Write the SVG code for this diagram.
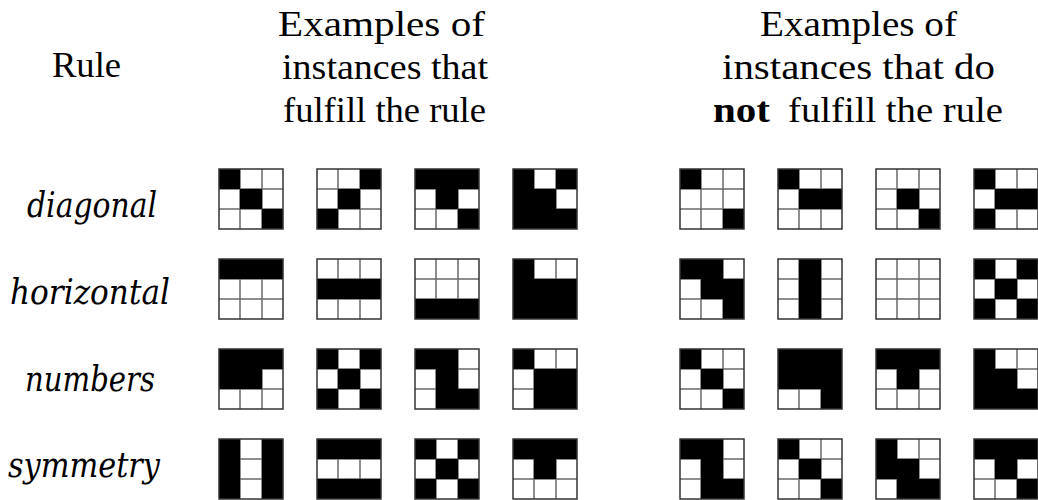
<svg xmlns="http://www.w3.org/2000/svg" width="1038" height="500" viewBox="0 0 1038 500">
<style>
.t{font-family:'Liberation Serif','DejaVu Serif',serif;font-size:36px;fill:#000}
.it{font-style:italic}
.b{font-weight:bold}
.on{fill:#000}
.ln{stroke:#6a6a6a;stroke-width:1.5;fill:none}
.fr{stroke:#333;stroke-width:1.5;fill:none}
</style>
<defs>
<g id="lines">
<rect x="0" y="0" width="64" height="60" fill="#fff"/>
<path class="ln" d="M21 0V60M43 0V60M0 20H64M0 40H64"/>
</g>
<rect id="frame" class="fr" x="0" y="0" width="64" height="60"/>
<rect id="c00" class="on" x="0" y="0" width="21" height="20"/>
<rect id="c01" class="on" x="21" y="0" width="22" height="20"/>
<rect id="c02" class="on" x="43" y="0" width="21" height="20"/>
<rect id="c10" class="on" x="0" y="20" width="21" height="20"/>
<rect id="c11" class="on" x="21" y="20" width="22" height="20"/>
<rect id="c12" class="on" x="43" y="20" width="21" height="20"/>
<rect id="c20" class="on" x="0" y="40" width="21" height="20"/>
<rect id="c21" class="on" x="21" y="40" width="22" height="20"/>
<rect id="c22" class="on" x="43" y="40" width="21" height="20"/>
</defs>
<g id="headers" class="t" font-family="Liberation Serif, DejaVu Serif, serif">
<text x="52" y="77" textLength="69" lengthAdjust="spacingAndGlyphs" font-family="Liberation Serif">Rule</text>
<text x="278" y="36" textLength="207" lengthAdjust="spacingAndGlyphs" font-family="Liberation Serif">Examples of</text>
<text x="282" y="79" textLength="206" lengthAdjust="spacingAndGlyphs" font-family="Liberation Serif">instances that</text>
<text x="283" y="122" textLength="203" lengthAdjust="spacingAndGlyphs" font-family="Liberation Serif">fulfill the rule</text>
<text x="760" y="36" textLength="197" lengthAdjust="spacingAndGlyphs" font-family="Liberation Serif">Examples of</text>
<text x="722" y="79" textLength="273" lengthAdjust="spacingAndGlyphs" font-family="Liberation Serif">instances that do</text>
<text class="b" x="713" y="122" textLength="57" lengthAdjust="spacingAndGlyphs" font-family="Liberation Serif">not</text>
<text x="788" y="122" textLength="215" lengthAdjust="spacingAndGlyphs" font-family="Liberation Serif">fulfill the rule</text>
</g>
<g id="labels" class="t it" font-family="DejaVu Serif, serif">
<text x="27" y="217" textLength="130" lengthAdjust="spacingAndGlyphs" font-family="DejaVu Serif">diagonal</text>
<text x="10" y="304" textLength="160" lengthAdjust="spacingAndGlyphs" font-family="DejaVu Serif">horizontal</text>
<text x="25" y="391" textLength="130" lengthAdjust="spacingAndGlyphs" font-family="DejaVu Serif">numbers</text>
<text x="8" y="477" textLength="152" lengthAdjust="spacingAndGlyphs" font-family="DejaVu Serif">symmetry</text>
</g>
<g id="connectors"/>
<!-- Row 1: diagonal -->
<g id="diag-yes-1" transform="translate(219,169)"><use href="#lines"/><use href="#c00"/><use href="#c11"/><use href="#c22"/><use href="#frame"/></g>
<g id="diag-yes-2" transform="translate(317,169)"><use href="#lines"/><use href="#c02"/><use href="#c11"/><use href="#c20"/><use href="#frame"/></g>
<g id="diag-yes-3" transform="translate(415,169)"><use href="#lines"/><use href="#c00"/><use href="#c01"/><use href="#c02"/><use href="#c11"/><use href="#c22"/><use href="#frame"/></g>
<g id="diag-yes-4" transform="translate(513,169)"><use href="#lines"/><use href="#c00"/><use href="#c02"/><use href="#c10"/><use href="#c11"/><use href="#c20"/><use href="#c21"/><use href="#c22"/><use href="#frame"/></g>
<g id="diag-no-1" transform="translate(680,169)"><use href="#lines"/><use href="#c00"/><use href="#c22"/><use href="#frame"/></g>
<g id="diag-no-2" transform="translate(778,169)"><use href="#lines"/><use href="#c00"/><use href="#c11"/><use href="#c12"/><use href="#frame"/></g>
<g id="diag-no-3" transform="translate(876,169)"><use href="#lines"/><use href="#c11"/><use href="#c22"/><use href="#frame"/></g>
<g id="diag-no-4" transform="translate(974,169)"><use href="#lines"/><use href="#c00"/><use href="#c11"/><use href="#c12"/><use href="#c20"/><use href="#frame"/></g>
<!-- Row 2: horizontal -->
<g id="hor-yes-1" transform="translate(219,259)"><use href="#lines"/><use href="#c00"/><use href="#c01"/><use href="#c02"/><use href="#frame"/></g>
<g id="hor-yes-2" transform="translate(317,259)"><use href="#lines"/><use href="#c10"/><use href="#c11"/><use href="#c12"/><use href="#frame"/></g>
<g id="hor-yes-3" transform="translate(415,259)"><use href="#lines"/><use href="#c20"/><use href="#c21"/><use href="#c22"/><use href="#frame"/></g>
<g id="hor-yes-4" transform="translate(513,259)"><use href="#lines"/><use href="#c00"/><use href="#c10"/><use href="#c11"/><use href="#c12"/><use href="#c20"/><use href="#c21"/><use href="#c22"/><use href="#frame"/></g>
<g id="hor-no-1" transform="translate(680,259)"><use href="#lines"/><use href="#c00"/><use href="#c01"/><use href="#c11"/><use href="#c12"/><use href="#c22"/><use href="#frame"/></g>
<g id="hor-no-2" transform="translate(778,259)"><use href="#lines"/><use href="#c01"/><use href="#c11"/><use href="#c21"/><use href="#frame"/></g>
<g id="hor-no-3" transform="translate(876,259)"><use href="#lines"/><use href="#frame"/></g>
<g id="hor-no-4" transform="translate(974,259)"><use href="#lines"/><use href="#c00"/><use href="#c02"/><use href="#c11"/><use href="#c20"/><use href="#c22"/><use href="#frame"/></g>
<!-- Row 3: numbers -->
<g id="num-yes-1" transform="translate(219,349)"><use href="#lines"/><use href="#c00"/><use href="#c01"/><use href="#c02"/><use href="#c10"/><use href="#c11"/><use href="#frame"/></g>
<g id="num-yes-2" transform="translate(317,349)"><use href="#lines"/><use href="#c00"/><use href="#c02"/><use href="#c11"/><use href="#c20"/><use href="#c22"/><use href="#frame"/></g>
<g id="num-yes-3" transform="translate(415,349)"><use href="#lines"/><use href="#c00"/><use href="#c01"/><use href="#c11"/><use href="#c21"/><use href="#c22"/><use href="#frame"/></g>
<g id="num-yes-4" transform="translate(513,349)"><use href="#lines"/><use href="#c00"/><use href="#c11"/><use href="#c12"/><use href="#c21"/><use href="#c22"/><use href="#frame"/></g>
<g id="num-no-1" transform="translate(680,349)"><use href="#lines"/><use href="#c00"/><use href="#c11"/><use href="#c22"/><use href="#frame"/></g>
<g id="num-no-2" transform="translate(778,349)"><use href="#lines"/><use href="#c00"/><use href="#c01"/><use href="#c02"/><use href="#c10"/><use href="#c11"/><use href="#c12"/><use href="#c22"/><use href="#frame"/></g>
<g id="num-no-3" transform="translate(876,349)"><use href="#lines"/><use href="#c00"/><use href="#c01"/><use href="#c02"/><use href="#c11"/><use href="#frame"/></g>
<g id="num-no-4" transform="translate(974,349)"><use href="#lines"/><use href="#c00"/><use href="#c10"/><use href="#c11"/><use href="#c20"/><use href="#c21"/><use href="#c22"/><use href="#frame"/></g>
<!-- Row 4: symmetry -->
<g id="sym-yes-1" transform="translate(219,439)"><use href="#lines"/><use href="#c00"/><use href="#c02"/><use href="#c10"/><use href="#c12"/><use href="#c20"/><use href="#c22"/><use href="#frame"/></g>
<g id="sym-yes-2" transform="translate(317,439)"><use href="#lines"/><use href="#c00"/><use href="#c01"/><use href="#c02"/><use href="#c20"/><use href="#c21"/><use href="#c22"/><use href="#frame"/></g>
<g id="sym-yes-3" transform="translate(415,439)"><use href="#lines"/><use href="#c00"/><use href="#c02"/><use href="#c11"/><use href="#c20"/><use href="#c22"/><use href="#frame"/></g>
<g id="sym-yes-4" transform="translate(513,439)"><use href="#lines"/><use href="#c00"/><use href="#c01"/><use href="#c02"/><use href="#c11"/><use href="#frame"/></g>
<g id="sym-no-1" transform="translate(680,439)"><use href="#lines"/><use href="#c00"/><use href="#c01"/><use href="#c11"/><use href="#c21"/><use href="#c22"/><use href="#frame"/></g>
<g id="sym-no-2" transform="translate(778,439)"><use href="#lines"/><use href="#c00"/><use href="#c11"/><use href="#c22"/><use href="#frame"/></g>
<g id="sym-no-3" transform="translate(876,439)"><use href="#lines"/><use href="#c00"/><use href="#c10"/><use href="#c11"/><use href="#c21"/><use href="#c22"/><use href="#frame"/></g>
<g id="sym-no-4" transform="translate(974,439)"><use href="#lines"/><use href="#c00"/><use href="#c01"/><use href="#c02"/><use href="#c11"/><use href="#c22"/><use href="#frame"/></g>
</svg>
